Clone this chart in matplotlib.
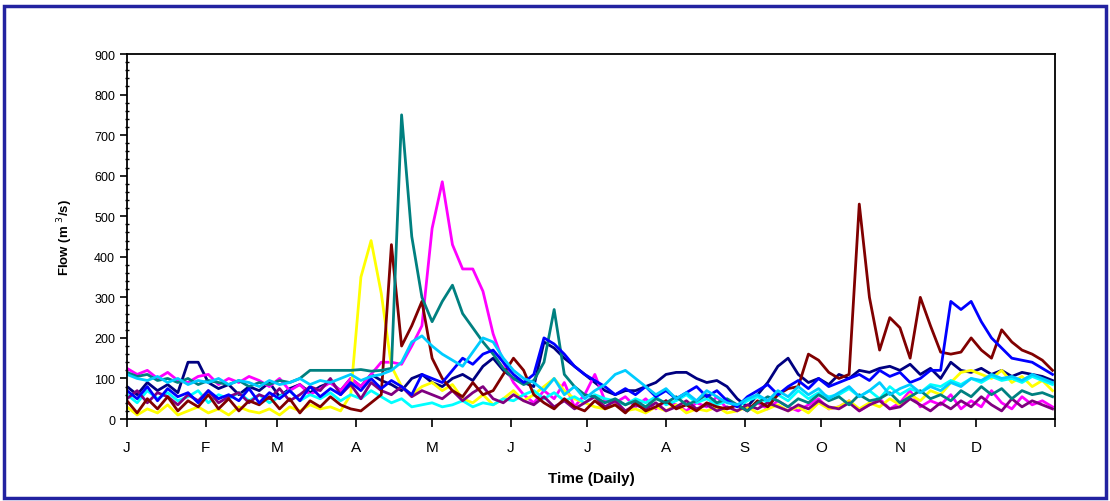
import numpy as np
import matplotlib.pyplot as plt
from matplotlib.patches import Rectangle
from matplotlib.ticker import MultipleLocator

plt.rcParams['font.family'] = ['Liberation Sans', 'DejaVu Sans']

# daily flow sampled every 4 days (day of year)
days = np.arange(0, 365, 4)

month_days = [0, 31, 59, 90, 120, 151, 181, 212, 243, 273, 304, 334, 365]
month_labels = ['J', 'F', 'M', 'A', 'M', 'J', 'J', 'A', 'S', 'O', 'N', 'D', '']

navy = [80, 60, 90, 70, 85, 65, 140, 140, 90, 75,
        85, 60, 80, 70, 90, 55, 75, 85, 65, 80,
        90, 70, 100, 80, 110, 95, 85, 70, 100, 110,
        90, 80, 100, 110, 95, 130, 150, 120, 100, 90,
        80, 190, 175, 150, 130, 110, 90, 70, 60, 70,
        70, 80, 90, 110, 115, 115, 100, 90, 95, 80,
        50, 30, 60, 90, 130, 150, 110, 90, 100, 85,
        110, 100, 120, 115, 125, 130, 120, 135, 110, 125,
        100, 140, 120, 115, 125, 110, 120, 105, 115, 110,
        105, 95]

magenta = [125, 110, 120, 100, 115, 95, 90, 105, 110, 85,
           100, 90, 105, 95, 80, 100, 70, 85, 60, 75,
           90, 70, 100, 80, 110, 140, 140, 135, 180, 230,
           470, 585, 430, 370, 370, 315, 210, 140, 90, 60,
           40, 70, 50, 90, 30, 60, 110, 45, 40, 55,
           30, 50, 25, 45, 35, 20, 40, 30, 55, 25,
           35, 20, 40, 25, 45, 30, 20, 35, 50, 25,
           30, 45, 20, 35, 50, 25, 40, 70, 30, 45,
           35, 60, 25, 45, 30, 70, 40, 25, 55, 35,
           45, 30]

yellow = [30, 10, 25, 15, 35, 10, 20, 30, 15, 25,
          10, 30, 20, 15, 25, 10, 30, 20, 35, 25,
          30, 20, 60, 350, 440, 310, 130, 80, 60, 80,
          90, 70, 85, 50, 40, 60, 35, 50, 70, 45,
          60, 80, 100, 70, 50, 40, 30, 25, 35, 20,
          25, 15, 30, 20, 35, 15, 25, 20, 30, 15,
          20, 30, 15, 25, 35, 20, 30, 15, 40, 25,
          30, 45, 25, 40, 30, 50, 35, 60, 45, 70,
          60, 90, 115, 120, 110, 100, 120, 90, 105, 80,
          95, 70]

turquoise = [60, 40, 70, 50, 65, 45, 55, 70, 40, 60,
             50, 65, 45, 60, 40, 55, 70, 45, 60, 50,
             65, 45, 60, 50, 70, 55, 40, 50, 30, 35,
             40, 30, 35, 45, 30, 40, 35, 50, 45, 60,
             70, 50, 65, 45, 55, 40, 60, 50, 45, 35,
             50, 40, 55, 35, 45, 60, 40, 50, 35, 45,
             30, 45, 55, 40, 60, 45, 70, 50, 65, 55,
             60, 75, 55, 70, 50, 80, 60, 75, 65, 85,
             80, 95, 85, 100, 90, 105, 95, 100, 90, 105,
             95, 85]

purple = [50, 70, 40, 65, 55, 35, 60, 45, 70, 40,
          55, 65, 40, 60, 50, 75, 45, 60, 80, 70,
          100, 60, 85, 50, 90, 70, 60, 80, 55, 70,
          60, 50, 70, 45, 65, 80, 50, 40, 60, 45,
          35, 55, 30, 45, 25, 40, 55, 30, 45, 20,
          35, 25, 40, 20, 30, 45, 25, 35, 20, 30,
          20, 35, 25, 40, 30, 20, 35, 25, 45, 30,
          25, 40, 20, 35, 45, 25, 30, 50, 35, 20,
          40, 25, 45, 30, 55, 35, 20, 50, 30, 45,
          35, 25]

maroon = [45, 15, 50, 25, 55, 20, 45, 30, 60, 25,
          50, 20, 45, 35, 55, 25, 50, 15, 45, 30,
          55, 35, 25, 20, 40, 60, 430, 180, 230, 290,
          150, 100, 70, 55, 90, 60, 70, 110, 150, 120,
          60, 40, 25, 50, 30, 20, 45, 25, 35, 15,
          40, 20, 30, 45, 25, 35, 20, 40, 30, 25,
          35, 20, 45, 30, 60, 75, 80, 160, 145, 115,
          100, 110, 530, 300, 170, 250, 225, 150, 300, 230,
          165, 160, 165, 200, 170, 150, 220, 190, 170, 160,
          145, 120]

teal = [115, 105, 110, 95, 100, 90, 100, 85, 95, 90,
        85, 95, 80, 90, 85, 95, 90, 100, 120, 120,
        120, 120, 120, 122, 118, 120, 125, 750, 450, 300,
        240, 290, 330, 260, 225, 190, 160, 125, 100, 85,
        95, 140, 270, 110, 80, 60, 55, 40, 50, 35,
        45, 30, 50, 40, 55, 35, 45, 60, 40, 50,
        35, 20, 40, 55, 45, 30, 50, 40, 60, 45,
        55, 35, 60, 45, 50, 65, 40, 55, 70, 50,
        60, 45, 70, 55, 80, 60, 75, 50, 70, 60,
        65, 55]

blue = [70, 50, 80, 45, 75, 55, 65, 40, 70, 50,
        60, 45, 75, 40, 65, 50, 70, 45, 80, 55,
        75, 60, 90, 70, 100, 75, 95, 80, 60, 110,
        100, 90, 120, 150, 135, 160, 170, 140, 110, 90,
        110, 200, 185, 160, 130, 110, 95, 80, 60, 75,
        60, 80, 55, 70, 50, 65, 80, 55, 70, 45,
        30, 55, 70, 85, 60, 80, 95, 75, 100, 80,
        90, 100, 110, 95, 120, 105, 115, 90, 100, 120,
        120, 290, 270, 290, 240, 200, 175, 150, 145, 140,
        125, 110]

sky = [110, 100, 95, 105, 90, 100, 85, 95, 90, 100,
       85, 95, 90, 80, 95, 85, 90, 100, 85, 95,
       90, 100, 110, 95, 105, 110, 120, 140, 190, 205,
       180, 160, 145, 130, 165, 200, 190, 150, 120, 100,
       90, 70, 100, 60, 80, 50, 70, 85, 110, 120,
       100, 80, 60, 75, 50, 65, 45, 70, 55, 40,
       35, 50, 60, 45, 70, 55, 80, 60, 75, 50,
       65, 80, 55, 70, 90, 60, 75, 85, 65, 80,
       70, 90, 80, 100, 95, 110, 100, 105, 95, 110,
       100, 90]

series = [(navy, '#000080'), (magenta, '#FF00FF'), (yellow, '#FFFF00'),
          (turquoise, '#00FFFF'), (purple, '#800080'), (maroon, '#800000'),
          (teal, '#008080'), (blue, '#0000FF'), (sky, '#00CCFF')]

fig = plt.figure(figsize=(11.10, 5.02), dpi=100)
ax = fig.add_axes([0.1144, 0.1633, 0.8361, 0.7271])

for vals, col in series:
    ax.plot(days, vals, color=col, lw=2)

ax.set_xlim(0, 365)
ax.set_ylim(0, 900)
ax.set_xticks(month_days)
ax.set_xticklabels(month_labels, fontsize=11)
ax.yaxis.set_major_locator(MultipleLocator(100))
ax.yaxis.set_minor_locator(MultipleLocator(20))
ax.tick_params(axis='y', labelsize=9, direction='out', length=5, width=1.2)
ax.tick_params(axis='y', which='minor', direction='inout', length=3, width=1)
ax.tick_params(axis='x', direction='out', length=6, width=1.2, pad=9)
for s in ax.spines.values():
    s.set_linewidth(1.3)

ax.set_xlabel('Time (Daily)', fontsize=11, fontweight='bold', labelpad=12)
ax.set_ylabel('Flow (m $^{3}$/s)', fontsize=9.5, fontweight='bold', labelpad=14)

fig.patches.append(Rectangle((0.004, 0.006), 0.992, 0.981, transform=fig.transFigure,
                             fill=False, edgecolor='#2222a0', lw=2.5))

fig.savefig('out.png', dpi=100)
